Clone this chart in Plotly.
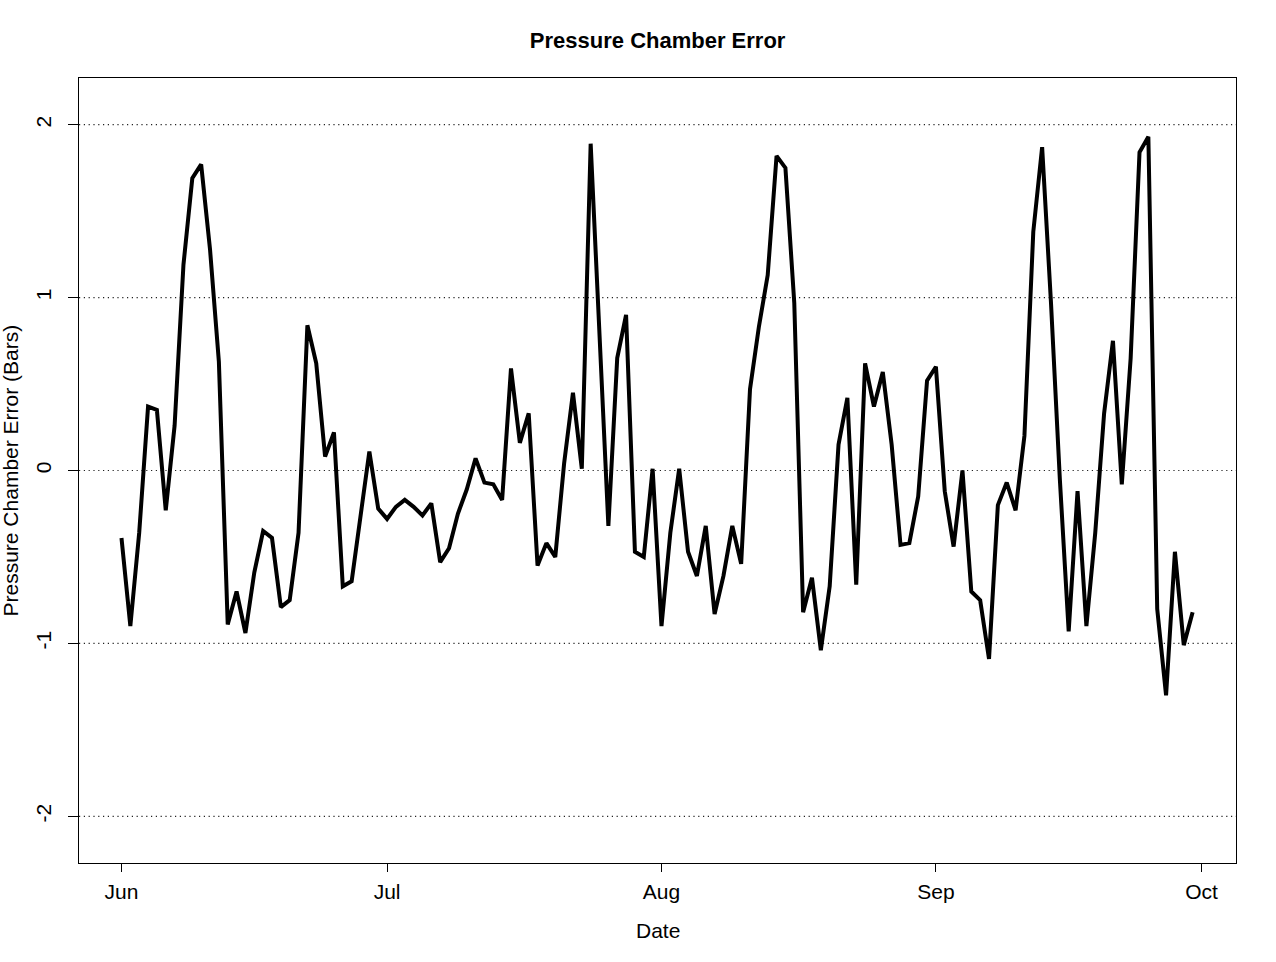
import pandas as pd
import plotly.graph_objects as go

start_date = "2014-06-01"
n_days = 122
dates = pd.date_range(start_date, periods=n_days, freq="D")

errors = [
    -0.39, -0.90, -0.36, 0.37, 0.35, -0.23, 0.26, 1.19, 1.69, 1.77,
    1.28, 0.63, -0.89, -0.70, -0.94, -0.59, -0.35, -0.39, -0.79, -0.75,
    -0.36, 0.84, 0.62, 0.08, 0.22, -0.67, -0.64, -0.26, 0.11, -0.22,
    -0.28, -0.21, -0.17, -0.21, -0.26, -0.19, -0.53, -0.45, -0.25, -0.11,
    0.07, -0.07, -0.08, -0.17, 0.59, 0.16, 0.33, -0.55, -0.42, -0.50,
    0.04, 0.45, 0.01, 1.89, 0.79, -0.32, 0.65, 0.90, -0.47, -0.50,
    0.01, -0.90, -0.36, 0.01, -0.47, -0.61, -0.32, -0.83, -0.61, -0.32,
    -0.54, 0.47, 0.83, 1.13, 1.82, 1.75, 0.97, -0.82, -0.62, -1.04,
    -0.67, 0.15, 0.42, -0.66, 0.62, 0.37, 0.57, 0.15, -0.43, -0.42,
    -0.15, 0.52, 0.60, -0.12, -0.44, 0.00, -0.70, -0.75, -1.09, -0.20,
    -0.07, -0.23, 0.20, 1.38, 1.87, 0.97, -0.05, -0.93, -0.12, -0.90,
    -0.36, 0.33, 0.75, -0.08, 0.65, 1.84, 1.93, -0.80, -1.30, -0.47,
    -1.01, -0.82,
]

x_tick_dates = ["2014-06-01", "2014-07-01", "2014-08-01", "2014-09-01", "2014-10-01"]
x_tick_labels = ["Jun", "Jul", "Aug", "Sep", "Oct"]
y_ticks = [-2, -1, 0, 1, 2]
y_tick_labels = ["-2", "-1", "0", "1", "2"]

FONT = "Liberation Sans, Arial, Helvetica, sans-serif"

x0 = pd.Timestamp(start_date)
x_range = [x0 - pd.Timedelta(days=4.8), x0 + pd.Timedelta(days=125.9)]

fig = go.Figure()
fig.add_trace(go.Scatter(
    x=dates, y=errors, mode="lines",
    line=dict(color="black", width=4),
    showlegend=False, hoverinfo="x+y",
))

# dotted horizontal reference lines
for yv in y_ticks:
    fig.add_shape(type="line", xref="paper", x0=0, x1=1, yref="y", y0=yv, y1=yv,
                  line=dict(color="#222222", width=1.2, dash="1.2px,3.6px"), layer="below")

# axis titles as annotations for precise placement
fig.add_annotation(text="Date", xref="paper", yref="paper", x=0.5, y=0,
                   xanchor="center", yanchor="middle", yshift=-67, showarrow=False,
                   font=dict(family=FONT, size=21, color="black"))
fig.add_annotation(text="Pressure Chamber Error (Bars)", xref="paper", yref="paper",
                   x=0, y=0.5, xanchor="center", yanchor="middle", xshift=-69,
                   textangle=-90, showarrow=False,
                   font=dict(family=FONT, size=21, color="black"))

fig.update_layout(
    width=1276, height=962,
    paper_bgcolor="white", plot_bgcolor="white",
    margin=dict(l=79, r=40, t=78, b=99),
    font=dict(family=FONT, size=21, color="black"),
    title=dict(text="<b>Pressure Chamber Error</b>", x=0.5154, xanchor="center",
               y=0.958, yanchor="middle", font=dict(family=FONT, size=22, color="black")),
    xaxis=dict(
        type="date", range=x_range, automargin=False,
        tickvals=x_tick_dates, ticktext=x_tick_labels,
        ticks="outside", ticklen=8, tickwidth=1, tickcolor="black",
        ticklabelstandoff=2,
        showline=True, linecolor="black", linewidth=1, mirror=True,
        showgrid=False, zeroline=False,
        tickfont=dict(family=FONT, size=21),
    ),
    yaxis=dict(
        range=[-2.27, 2.27], automargin=False,
        tickvals=y_ticks, ticktext=y_tick_labels, tickangle=-90,
        ticks="outside", ticklen=10, tickwidth=1, tickcolor="black",
        ticklabelstandoff=9,
        showline=True, linecolor="black", linewidth=1, mirror=True,
        showgrid=False, zeroline=False,
        tickfont=dict(family=FONT, size=21),
    ),
)

fig.write_html("out.html")
